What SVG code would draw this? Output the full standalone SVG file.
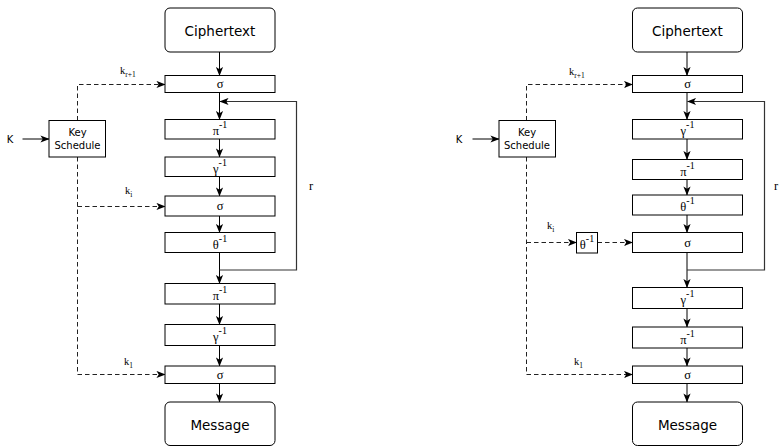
<svg xmlns="http://www.w3.org/2000/svg" width="779" height="446" viewBox="0 0 779 446">
  <defs>
    <marker id="arr" viewBox="0 0 10 8" refX="9.5" refY="4" markerWidth="9" markerHeight="8" markerUnits="userSpaceOnUse" orient="auto">
      <path d="M0,0 L10,4 L0,8 L2.5,4 z" fill="#000"/>
    </marker>
  </defs>
  <style>
    rect { fill: #fff; stroke: #000; stroke-width: 1; }
    .io { font-family: "DejaVu Sans", sans-serif; font-size: 13.5px; fill: #000; text-anchor: middle; }
    .ks { font-family: "DejaVu Sans", sans-serif; font-size: 10px; fill: #000; text-anchor: middle; }
    .op { font-family: "Liberation Serif", "DejaVu Serif", serif; font-size: 12.5px; fill: #000; text-anchor: middle; }
    .sup { font-size: 10px; }
    .lbl { font-family: "Liberation Serif", "DejaVu Serif", serif; font-size: 10.5px; fill: #000; }
    .sub { font-size: 7.5px; }
    .flow { fill: none; stroke: #000; stroke-width: 1; marker-end: url(#arr); }
    .key { fill: none; stroke: #222; stroke-width: 1; stroke-dasharray: 4.5 3; marker-end: url(#arr); }
    .loop { fill: none; stroke: #333; stroke-width: 1.2; marker-end: url(#arr); }
  </style>

  <!-- ===== Left: decryption with sigma / pi / gamma / sigma / theta rounds ===== -->
  <g id="connectors-left">
    <path class="flow" d="M219.5,52 V75.5"/>
    <path class="flow" d="M219.5,92.5 V119.5"/>
    <path class="flow" d="M219.5,139 V157"/>
    <path class="flow" d="M219.5,176.5 V196"/>
    <path class="flow" d="M219.5,216 V232.5"/>
    <path class="flow" d="M219.5,252.5 V283.5"/>
    <path class="flow" d="M219.5,304 V324.5"/>
    <path class="flow" d="M219.5,345.5 V366"/>
    <path class="flow" d="M219.5,383.5 V402"/>
    <path class="loop" d="M219.5,270 H296.5 V101.5 H220"/>
    <path class="flow" d="M22.5,139 H49"/>
    <path class="key" d="M77.5,120.5 V84.5 H165"/>
    <path class="key" d="M77.5,157 V374.5 H165"/>
    <path class="key" d="M77.5,206.5 H165"/>
  </g>

  <g id="L-cipher"><rect x="165" y="8" width="110" height="44" rx="5"/><text class="io" x="220" y="35.5">Ciphertext</text></g>
  <g id="L-sigma-r1"><rect x="165" y="75.5" width="110" height="17"/><text class="op" x="220" y="88">σ</text></g>
  <g id="L-pi-1"><rect x="165" y="119.5" width="110" height="19.5"/><text class="op" x="220" y="135">π<tspan class="sup" dy="-7">-1</tspan></text></g>
  <g id="L-gamma-1"><rect x="165" y="157" width="110" height="19.5"/><text class="op" x="220" y="173">γ<tspan class="sup" dy="-7">-1</tspan></text></g>
  <g id="L-sigma-i"><rect x="165" y="196" width="110" height="20"/><text class="op" x="220" y="210">σ</text></g>
  <g id="L-theta"><rect x="165" y="232.5" width="110" height="20"/><text class="op" x="220" y="248.5">θ<tspan class="sup" dy="-7">-1</tspan></text></g>
  <g id="L-pi-2"><rect x="165" y="283.5" width="110" height="20.5"/><text class="op" x="220" y="300">π<tspan class="sup" dy="-7">-1</tspan></text></g>
  <g id="L-gamma-2"><rect x="165" y="324.5" width="110" height="21"/><text class="op" x="220" y="341">γ<tspan class="sup" dy="-7">-1</tspan></text></g>
  <g id="L-sigma-1"><rect x="165" y="366" width="110" height="17.5"/><text class="op" x="220" y="379">σ</text></g>
  <g id="L-message"><rect x="165" y="402" width="110" height="43.5" rx="5"/><text class="io" x="220" y="429.5">Message</text></g>
  <g id="L-keysched"><rect x="49" y="120.5" width="56.5" height="36.5"/><text class="ks" x="77.5" y="136">Key</text><text class="ks" x="77.5" y="148.5">Schedule</text></g>

  <g id="L-labels">
    <text class="ks" x="10" y="143">K</text>
    <text class="lbl" x="120" y="74">k<tspan class="sub" dy="3">r+1</tspan></text>
    <text class="lbl" x="125" y="194">k<tspan class="sub" dy="3">i</tspan></text>
    <text class="lbl" x="124" y="365">k<tspan class="sub" dy="3">1</tspan></text>
    <text class="op" x="311" y="190">r</text>
  </g>

  <!-- ===== Right: variant with theta applied to the round key ===== -->
  <g id="connectors-right">
    <path class="flow" d="M687,52 V75.5"/>
    <path class="flow" d="M687,92.5 V119.5"/>
    <path class="flow" d="M687,139 V159.5"/>
    <path class="flow" d="M687,179.5 V195"/>
    <path class="flow" d="M687,215 V232.5"/>
    <path class="flow" d="M687,252.5 V287.5"/>
    <path class="flow" d="M687,308.5 V327"/>
    <path class="flow" d="M687,348 V366"/>
    <path class="flow" d="M687,383.5 V402"/>
    <path class="loop" d="M687,270 H764.5 V101.5 H687.5"/>
    <path class="flow" d="M472.5,139 H499"/>
    <path class="key" d="M526.5,120.5 V84.5 H632.5"/>
    <path class="key" d="M526.5,157 V374.5 H632.5"/>
    <path class="key" d="M526.5,242.5 H576.5"/>
    <path class="key" d="M597.5,242.5 H632.5"/>
  </g>

  <g id="R-cipher"><rect x="632.5" y="8" width="110" height="44" rx="5"/><text class="io" x="687.5" y="35.5">Ciphertext</text></g>
  <g id="R-sigma-r1"><rect x="632.5" y="75.5" width="110" height="17"/><text class="op" x="687.5" y="88">σ</text></g>
  <g id="R-gamma-1"><rect x="632.5" y="119.5" width="110" height="19.5"/><text class="op" x="687.5" y="135">γ<tspan class="sup" dy="-7">-1</tspan></text></g>
  <g id="R-pi-1"><rect x="632.5" y="159.5" width="110" height="20"/><text class="op" x="687.5" y="175.5">π<tspan class="sup" dy="-7">-1</tspan></text></g>
  <g id="R-theta"><rect x="632.5" y="195" width="110" height="20"/><text class="op" x="687.5" y="211">θ<tspan class="sup" dy="-7">-1</tspan></text></g>
  <g id="R-sigma-i"><rect x="632.5" y="232.5" width="110" height="20"/><text class="op" x="687.5" y="246.5">σ</text></g>
  <g id="R-gamma-2"><rect x="632.5" y="287.5" width="110" height="21"/><text class="op" x="687.5" y="304">γ<tspan class="sup" dy="-7">-1</tspan></text></g>
  <g id="R-pi-2"><rect x="632.5" y="327" width="110" height="21"/><text class="op" x="687.5" y="343.5">π<tspan class="sup" dy="-7">-1</tspan></text></g>
  <g id="R-sigma-1"><rect x="632.5" y="366" width="110" height="17.5"/><text class="op" x="687.5" y="379">σ</text></g>
  <g id="R-message"><rect x="632.5" y="402" width="110" height="43.5" rx="5"/><text class="io" x="687.5" y="429.5">Message</text></g>
  <g id="R-keysched"><rect x="499" y="120.5" width="56.5" height="36.5"/><text class="ks" x="527" y="136">Key</text><text class="ks" x="527" y="148.5">Schedule</text></g>
  <g id="R-key-theta"><rect x="576.5" y="232.5" width="21" height="20.5"/><text class="op" x="587" y="248.5">θ<tspan class="sup" dy="-7">-1</tspan></text></g>

  <g id="R-labels">
    <text class="ks" x="459" y="143">K</text>
    <text class="lbl" x="569" y="75">k<tspan class="sub" dy="3">r+1</tspan></text>
    <text class="lbl" x="547" y="229">k<tspan class="sub" dy="3">i</tspan></text>
    <text class="lbl" x="574" y="365">k<tspan class="sub" dy="3">1</tspan></text>
    <text class="op" x="776" y="190">r</text>
  </g>
</svg>
